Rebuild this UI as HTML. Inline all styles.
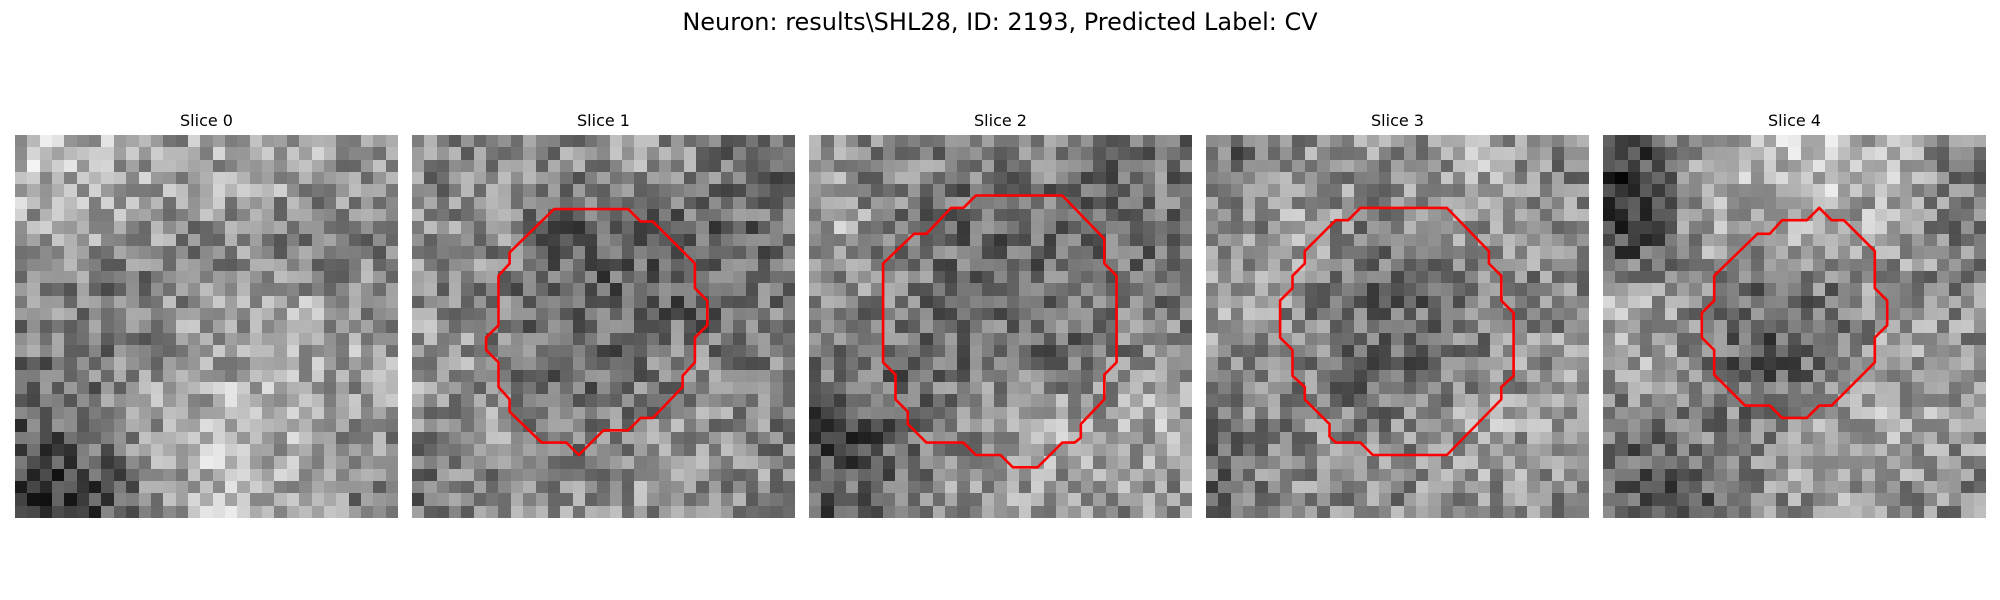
<!DOCTYPE html>
<html><head><meta charset="utf-8">
<style>
html,body{margin:0;padding:0;background:#fff;}
svg{display:block;}
text{font-family:"DejaVu Sans","Liberation Sans",sans-serif;fill:#000;}
</style></head>
<body>
<svg id="fig" width="2000" height="600" viewBox="0 0 2000 600" xmlns="http://www.w3.org/2000/svg">
<text x="1000" y="30" text-anchor="middle" font-size="24">Neuron: results\SHL28, ID: 2193, Predicted Label: CV</text>
<g id="panels"></g>
</svg>
<script>
const sliceTitles = ["Slice 0","Slice 1","Slice 2","Slice 3","Slice 4"];
const coarse0 = [[190,175,160,170,170,140],[160,160,140,140,120,130],[150,110,140,150,160,140],[120,130,150,165,175,160],[100,120,180,190,170,150],[50,90,170,190,160,130]];
const coarse1 = [[130,140,140,150,130,110],[150,140,90,110,100,110],[140,120,90,100,90,110],[160,130,100,110,130,130],[140,150,110,130,150,130],[120,140,150,150,150,140]];
const coarse2 = [[140,130,120,130,110,120],[170,130,100,110,100,110],[140,120,110,110,120,120],[130,110,110,110,120,140],[70,100,140,170,170,170],[90,120,150,160,150,150]];
const coarse3 = [[110,140,150,150,170,130],[130,170,130,140,150,140],[170,140,110,110,130,130],[150,130,100,110,140,150],[120,140,130,140,170,150],[110,150,140,140,150,140]];
const coarse4 = [[60,160,190,190,180,130],[50,160,170,170,160,120],[170,140,110,120,150,140],[170,120,80,110,160,150],[120,130,130,170,170,160],[90,100,140,160,150,140]];
const contour1 = [[11.5,6],[17.5,6],[18.5,7],[19.5,7],[22.9,10.4],[22.9,12.4],[23.9,13.4],[23.9,15.4],[22.9,16.4],[22.9,18.4],[21.9,19.5],[21.9,20.4],[19.5,22.9],[18.5,22.9],[17.5,23.9],[15.5,23.9],[13.5,25.9],[12.5,24.9],[10.5,24.9],[7.9,22.4],[7.9,21.4],[7,20.4],[7,18.4],[6,17.4],[6,16.4],[7,15.4],[7,11.4],[7.9,10.4],[7.9,9.5]];
const contour2 = [[13.5,4.9],[20.5,4.9],[23.9,8.4],[23.9,10.4],[24.9,11.4],[24.9,18.4],[23.9,19.4],[23.9,21.4],[22,23.4],[22,24.5],[21.5,24.9],[20.5,24.9],[18.5,26.9],[16.5,26.9],[15.5,25.9],[13.5,25.9],[12.5,24.9],[9.5,24.9],[8,23.4],[8,22.4],[7,21.4],[7,19.4],[6,18.4],[6,10.4],[8.5,8],[9.5,8],[11.5,5.9],[12.5,5.9]];
const contour3 = [[12.5,5.9],[19.5,5.9],[22.9,9.4],[22.9,10.4],[23.9,11.4],[23.9,13.4],[24.9,14.4],[24.9,19.5],[23.9,20.4],[23.9,21.4],[19.5,25.9],[13.5,25.9],[12.5,24.9],[10.5,24.9],[10,24.4],[10,23.4],[8,21.4],[8,20.4],[7,19.5],[7,17.4],[6,16.4],[6,13.4],[7,12.4],[7,11.4],[8,10.4],[8,9.4],[10.5,6.9],[11.5,6.9]];
const contour4 = [[17.5,5.9],[18.5,6.9],[19.5,6.9],[22,9.4],[22,12.4],[23,13.4],[23,15.4],[22,16.4],[22,18.4],[18.5,21.9],[17.5,21.9],[16.5,22.9],[14.5,22.9],[13.5,21.9],[11.5,21.9],[9,19.4],[9,17.4],[8,16.4],[8,14.4],[9,13.4],[9,11.4],[12.5,8],[13.5,8],[14.5,6.9],[16.5,6.9]];

const coarseMaps=[coarse0,coarse1,coarse2,coarse3,coarse4];
const contours=[null,contour1,contour2,contour3,contour4];
const N=31, panelX0=15, panelStep=397, panelY=135, panelSize=383;
const cell=panelSize/N;
const NS="http://www.w3.org/2000/svg";
const root=document.getElementById('panels');
function hash(a,b,c){let h=(a*374761393+b*668265263+c*2246822519)>>>0;h=((h^(h>>>13))*1274126177)>>>0;return ((h^(h>>>16))&1023)/1023;}
function sample(m,i,j){
  const fx=(j+0.5)/N*6-0.5, fy=(i+0.5)/N*6-0.5;
  const x0=Math.max(0,Math.min(5,Math.floor(fx))),y0=Math.max(0,Math.min(5,Math.floor(fy)));
  const x1=Math.min(5,x0+1),y1=Math.min(5,y0+1);
  const tx=Math.max(0,Math.min(1,fx-x0)),ty=Math.max(0,Math.min(1,fy-y0));
  const a=m[y0][x0]*(1-tx)+m[y0][x1]*tx, b=m[y1][x0]*(1-tx)+m[y1][x1]*tx;
  return a*(1-ty)+b*ty;
}
sliceTitles.forEach((t,k)=>{
  const px=panelX0+k*panelStep;
  const g=document.createElementNS(NS,'g');
  
  
  root.appendChild(g);
  const tt=document.createElementNS(NS,'text');
  
  
  tt.setAttribute('x',px+panelSize/2);tt.setAttribute('y',126);
  tt.setAttribute('text-anchor','middle');tt.setAttribute('font-size','16');
  tt.textContent=t;g.appendChild(tt);
  const img=document.createElementNS(NS,'g');
  
  
  img.setAttribute('shape-rendering','crispEdges');
  g.appendChild(img);
  for(let i=0;i<N;i++)for(let j=0;j<N;j++){
    let v=sample(coarseMaps[k],i,j)+(hash(k,i,j)-0.5)*110;
    v=Math.round(Math.max(0,Math.min(255,v)));
    const r=document.createElementNS(NS,'rect');
    const x=Math.round(px+j*cell), y=Math.round(panelY+i*cell);
    r.setAttribute('x',x);r.setAttribute('y',y);
    r.setAttribute('width',Math.round(px+(j+1)*cell)-x);
    r.setAttribute('height',Math.round(panelY+(i+1)*cell)-y);
    r.setAttribute('fill',`rgb(${v},${v},${v})`);
    img.appendChild(r);
  }
  if(contours[k]){
    const p=document.createElementNS(NS,'polygon');
    
    
    p.setAttribute('points',contours[k].map(q=>(px+q[0]*cell).toFixed(1)+','+(panelY+q[1]*cell).toFixed(1)).join(' '));
    p.setAttribute('fill','none');p.setAttribute('stroke','#ff0000');
    p.setAttribute('stroke-width','2.6');p.setAttribute('stroke-linejoin','round');
    g.appendChild(p);
  }
});
</script>
</body></html>
